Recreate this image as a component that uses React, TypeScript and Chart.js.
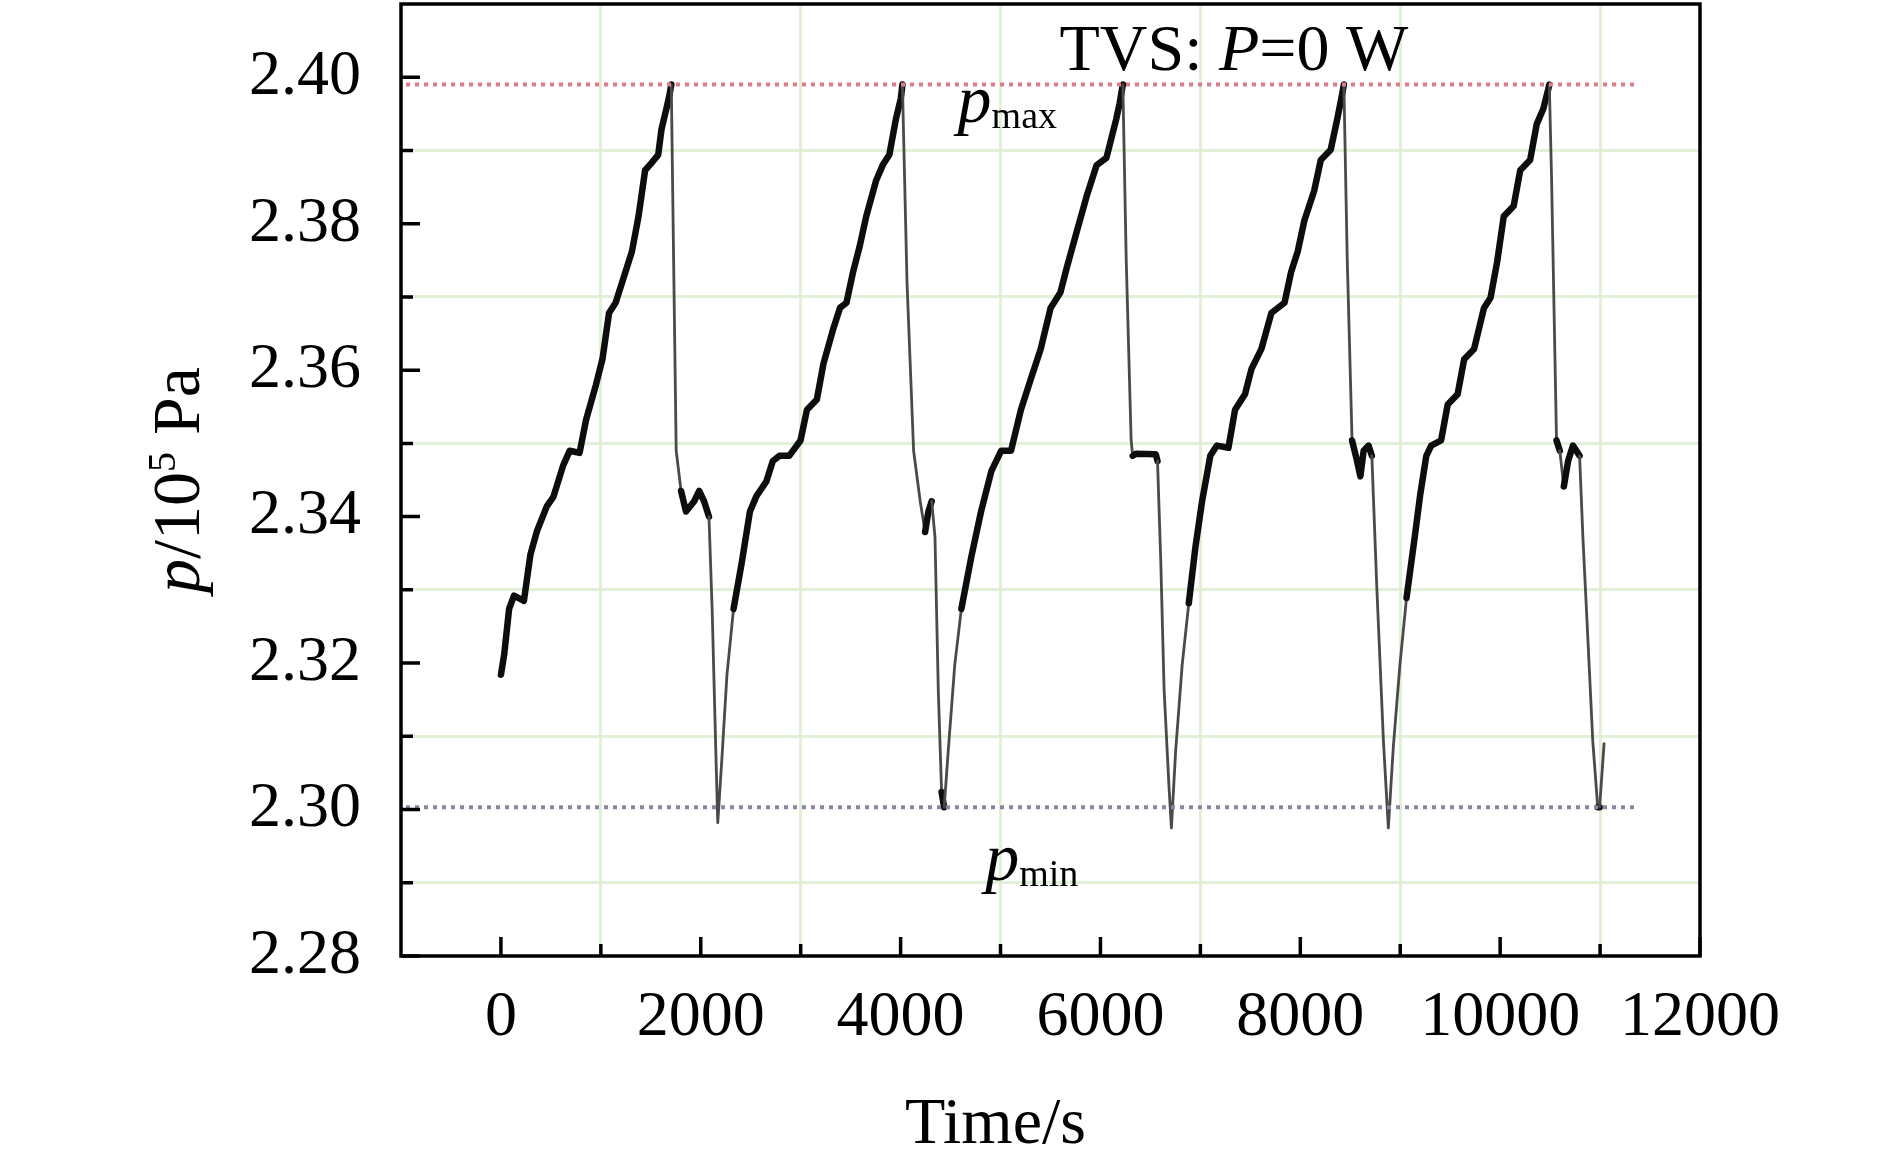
import { useEffect, useRef } from 'react';
import { Chart, registerables } from 'chart.js';

Chart.register(...registerables);

// time (s) and pressure (10^5 Pa)
const timeS = [
  0, 33, 82, 131, 230, 295, 360, 459, 525, 623, 689, 787, 852, 951, 1016, 1082, 1148, 1246, 1311, 1377,
  1443, 1508, 1574, 1607, 1656, 1689, 1705, 1721, 1754, 1803, 1852, 1934, 1984, 2033, 2082, 2115, 2148,
  2170, 2213, 2262, 2328, 2410, 2492, 2557, 2656, 2721, 2787, 2885,
  2998, 3063, 3162, 3228, 3327, 3393, 3458, 3524, 3590, 3656, 3755, 3821, 3887, 3953, 4002, 4018, 4064,
  4130, 4196, 4245, 4278, 4311, 4344, 4377, 4410, 4436, 4476, 4542, 4608, 4706, 4805, 4908, 5007, 5105,
  5204, 5303, 5402, 5501, 5599, 5665, 5764, 5863, 5962,
  6060, 6158, 6191, 6224, 6257, 6307, 6323, 6356, 6554, 6571, 6604, 6637, 6686, 6710, 6752, 6818, 6884,
  6950, 7017, 7099, 7165, 7281, 7347, 7446, 7512, 7611, 7710, 7842, 7908, 7974, 8040, 8139, 8205, 8304,
  8370, 8419, 8436, 8469, 8518, 8568, 8601, 8634, 8683, 8716, 8766, 8832, 8881, 8931, 8997, 9063,
  9145, 9200, 9261, 9310, 9409, 9475, 9574, 9640, 9739, 9838, 9904, 9970, 10036, 10135, 10201, 10300,
  10366, 10432, 10482, 10492, 10515, 10564, 10597, 10637, 10680, 10729, 10795, 10828, 10878, 10927,
  10977, 10995, 11040,
];

const pressure = [
  2.3184, 2.3212, 2.3274, 2.3292, 2.3285, 2.3348, 2.338, 2.3414, 2.3427, 2.347, 2.349, 2.3487, 2.3532,
  2.358, 2.3615, 2.3678, 2.3692, 2.3734, 2.3762, 2.381, 2.3873, 2.3883, 2.3894, 2.3929, 2.3957, 2.3977,
  2.399, 2.3824, 2.349, 2.3435, 2.3407, 2.3421, 2.3435, 2.3421, 2.34, 2.3268, 2.3093, 2.2982, 2.3073,
  2.3184, 2.3274, 2.3337, 2.3407, 2.3428, 2.3448, 2.3476, 2.3483, 2.3483,
  2.3504, 2.3546, 2.356, 2.3609, 2.3657, 2.3685, 2.3692, 2.3734, 2.3769, 2.381, 2.3859, 2.388, 2.3894,
  2.3943, 2.3971, 2.399, 2.372, 2.349, 2.3421, 2.3379, 2.3407, 2.3421, 2.3372, 2.3163, 2.3024, 2.3003,
  2.3079, 2.3198, 2.3274, 2.3344, 2.3407, 2.3462, 2.349, 2.349, 2.3546, 2.3588, 2.3629, 2.3685, 2.3706,
  2.3741, 2.379, 2.3838, 2.388,
  2.389, 2.3943, 2.3964, 2.399, 2.3755, 2.3504, 2.3483, 2.3486, 2.3485, 2.3476, 2.3337, 2.3163, 2.3031,
  2.2975, 2.3079, 2.3198, 2.3282, 2.3358, 2.3421, 2.3483, 2.3497, 2.3494, 2.3546, 2.3567, 2.3602, 2.3629,
  2.3678, 2.3692, 2.3734, 2.3762, 2.3804, 2.3845, 2.3887, 2.3901, 2.3943, 2.3977, 2.399, 2.3755, 2.3504,
  2.3476, 2.3455, 2.349, 2.3497, 2.3483, 2.3302, 2.3093, 2.2975, 2.3086, 2.3198, 2.3289,
  2.3372, 2.343, 2.3483, 2.3497, 2.3504, 2.3553, 2.3567, 2.3615, 2.3629, 2.3685, 2.3699, 2.3748, 2.381,
  2.3824, 2.3873, 2.3887, 2.3936, 2.3957, 2.3984, 2.399, 2.3859, 2.3504, 2.349, 2.3441, 2.3476, 2.3497,
  2.3483, 2.3372, 2.3233, 2.3093, 2.3003, 2.3003, 2.309,
];

const pMaxValue = 2.399;
const pMinValue = 2.3003;
const limitSpan = [-950, 11380];

const xMajorTicks = [0, 2000, 4000, 6000, 8000, 10000, 12000];
const xMinorTicks = [1000, 3000, 5000, 7000, 9000, 11000];
const yMajorTicks = [2.28, 2.3, 2.32, 2.34, 2.36, 2.38, 2.4];
const yMinorTicks = [2.29, 2.31, 2.33, 2.35, 2.37, 2.39];

// annotation anchors in data units
const titleAt = [5590, 2.40092];
const pMaxAt = [4570, 2.39389];
const pMinAt = [4847, 2.29038];

const SERIF = '"Liberation Serif", "Times New Roman", serif';
const GRID = 'rgba(222, 240, 212, 0.9)';

const isIn = (list: number[], v: any) =>
  typeof v === 'number' && list.some((t) => Math.abs(t - v) < 1e-6);

type Run = { text: string; size: number; italic?: boolean; rise?: number };

function drawRuns(ctx: CanvasRenderingContext2D, runs: Run[], x: number, y: number, center = false) {
  const fontOf = (r: Run) => `${r.italic ? 'italic ' : ''}${r.size}px ${SERIF}`;
  const widths = runs.map((r) => {
    ctx.font = fontOf(r);
    return ctx.measureText(r.text).width;
  });
  const total = widths.reduce((a, b) => a + b, 0);
  let cx = center ? x - total / 2 : x;
  runs.forEach((r, i) => {
    ctx.font = fontOf(r);
    ctx.fillText(r.text, cx, y - (r.rise || 0));
    cx += widths[i];
  });
}

const framePlugin = {
  id: 'frameAndLabels',
  afterDraw(chart: any) {
    const { ctx, chartArea: a } = chart;
    const xs = chart.scales.x;
    const ys = chart.scales.y;
    ctx.save();

    // frame + inward ticks
    ctx.strokeStyle = '#000';
    ctx.lineWidth = 3.5;
    ctx.strokeRect(a.left, a.top, a.right - a.left, a.bottom - a.top);
    ctx.beginPath();
    xMajorTicks.forEach((v) => {
      const px = xs.getPixelForValue(v);
      ctx.moveTo(px, a.bottom);
      ctx.lineTo(px, a.bottom - 19);
    });
    xMinorTicks.forEach((v) => {
      const px = xs.getPixelForValue(v);
      ctx.moveTo(px, a.bottom);
      ctx.lineTo(px, a.bottom - 12);
    });
    yMajorTicks.forEach((v) => {
      const py = ys.getPixelForValue(v);
      ctx.moveTo(a.left, py);
      ctx.lineTo(a.left + 19, py);
    });
    yMinorTicks.forEach((v) => {
      const py = ys.getPixelForValue(v);
      ctx.moveTo(a.left, py);
      ctx.lineTo(a.left + 12, py);
    });
    ctx.stroke();

    ctx.fillStyle = '#000';
    ctx.textAlign = 'left';
    ctx.textBaseline = 'alphabetic';

    drawRuns(
      ctx,
      [
        { text: 'TVS: ', size: 66 },
        { text: 'P', size: 66, italic: true },
        { text: '=0 W', size: 66 },
      ],
      xs.getPixelForValue(titleAt[0]),
      ys.getPixelForValue(titleAt[1])
    );
    drawRuns(
      ctx,
      [
        { text: 'p', size: 68, italic: true },
        { text: 'max', size: 38, rise: -6 },
      ],
      xs.getPixelForValue(pMaxAt[0]),
      ys.getPixelForValue(pMaxAt[1])
    );
    drawRuns(
      ctx,
      [
        { text: 'p', size: 68, italic: true },
        { text: 'min', size: 38, rise: -6 },
      ],
      xs.getPixelForValue(pMinAt[0]),
      ys.getPixelForValue(pMinAt[1])
    );

    // axis titles
    drawRuns(ctx, [{ text: 'Time/s', size: 66 }], (a.left + a.right) / 2 - 55, a.bottom + 187, true);

    ctx.save();
    ctx.translate(a.left - 202, (a.top + a.bottom) / 2);
    ctx.rotate(-Math.PI / 2);
    drawRuns(
      ctx,
      [
        { text: 'p', size: 68, italic: true },
        { text: '/10', size: 68 },
        { text: '5', size: 40, rise: 24 },
        { text: ' Pa', size: 68 },
      ],
      0,
      0,
      true
    );
    ctx.restore();

    ctx.restore();
  },
};

export default function App() {
  const canvasRef = useRef<HTMLCanvasElement>(null);
  const chartRef = useRef<Chart | null>(null);

  useEffect(() => {
    document.body.style.margin = '0';
    if (!canvasRef.current) return;
    if (chartRef.current) chartRef.current.destroy();

    // thin grey strokes for the fast vent/refill parts, heavy strokes elsewhere
    const thin = (c: any) => {
      const dx = Math.abs(c.p1.x - c.p0.x);
      const dy = Math.abs(c.p1.y - c.p0.y);
      if (dy <= 6 * Math.max(dx, 0.01)) return false;
      const v0 = pressure[c.p0DataIndex];
      const v1 = pressure[c.p1DataIndex];
      return v1 < v0 || (v1 < 2.333 && timeS[c.p0DataIndex] > 500);
    };

    chartRef.current = new Chart(canvasRef.current, {
      type: 'line',
      data: {
        datasets: [
          {
            label: 'pmax',
            data: limitSpan.map((t) => ({ x: t, y: pMaxValue })),
            borderColor: '#e07c89',
            borderWidth: 4,
            borderDash: [4, 5],
            pointRadius: 0,
          },
          {
            label: 'pmin',
            data: limitSpan.map((t) => ({ x: t, y: pMinValue })),
            borderColor: '#8c84a6',
            borderWidth: 4,
            borderDash: [4, 5],
            pointRadius: 0,
          },
          {
            label: 'p',
            data: timeS.map((t, i) => ({ x: t, y: pressure[i] })),
            borderColor: '#111',
            borderWidth: 6.5,
            pointRadius: 0,
            tension: 0,
            borderJoinStyle: 'round',
            borderCapStyle: 'round',
            segment: {
              borderWidth: (c: any) => (thin(c) ? 2.8 : 6.5),
              borderColor: (c: any) => (thin(c) ? '#4a4a4a' : '#0d0d0d'),
            },
          },
        ],
      },
      options: {
        animation: false,
        responsive: false,
        layout: { padding: { top: 4, right: 190, left: 0, bottom: 0 } },
        plugins: { legend: { display: false }, tooltip: { enabled: false } },
        scales: {
          x: {
            type: 'linear',
            min: -1000,
            max: 12000,
            afterFit: (s: any) => {
              s.height = 207;
              s.paddingLeft = 0;
              s.paddingRight = 0;
            },
            ticks: {
              stepSize: 1000,
              autoSkip: false,
              maxRotation: 0,
              minRotation: 0,
              padding: 24,
              color: '#000',
              font: { family: SERIF, size: 64 },
              callback: (v: any) => (isIn(xMajorTicks, v) ? String(v) : ''),
            },
            grid: {
              drawTicks: false,
              lineWidth: 3,
              color: (c: any) => (isIn(xMinorTicks, c.tick?.value) ? GRID : 'rgba(0,0,0,0)'),
            },
            border: { display: false },
          },
          y: {
            type: 'linear',
            min: 2.28,
            max: 2.41,
            afterFit: (s: any) => {
              s.width = 401;
              s.paddingTop = 0;
              s.paddingBottom = 0;
            },
            ticks: {
              stepSize: 0.01,
              autoSkip: false,
              padding: 40,
              color: '#000',
              font: { family: SERIF, size: 64 },
              callback: (v: any) => (isIn(yMajorTicks, v) ? Number(v).toFixed(2) : ''),
            },
            grid: {
              drawTicks: false,
              lineWidth: 3,
              color: (c: any) => (isIn(yMinorTicks, c.tick?.value) ? GRID : 'rgba(0,0,0,0)'),
            },
            border: { display: false },
          },
        },
      },
      plugins: [framePlugin],
    });

    return () => {
      if (chartRef.current) {
        chartRef.current.destroy();
        chartRef.current = null;
      }
    };
  }, []);

  return (
    <div style={{ width: 1890, height: 1163, background: '#fff' }}>
      <canvas ref={canvasRef} width={1890} height={1163} style={{ display: 'block' }} />
    </div>
  );
}
